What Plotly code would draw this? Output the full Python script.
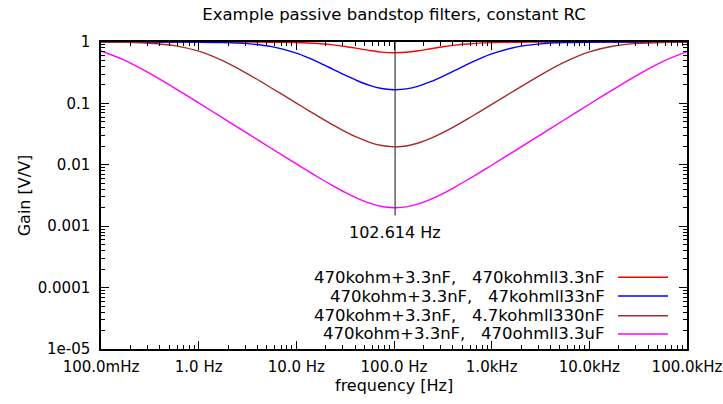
import math
import plotly.graph_objects as go

# Frequency sweep (Hz) and gain (V/V) of each bandstop network
freq_hz = [0.1, 0.1778, 0.3162, 0.5623, 1.0, 1.778, 3.162, 5.623, 10.0,
           13.34, 17.78, 23.71, 31.62, 42.17, 56.23, 74.99, 100.0, 102.614,
           133.4, 177.8, 237.1, 316.2, 421.7, 562.3, 749.9, 1000.0,
           1778.0, 3162.0, 5623.0, 10000.0, 17783.0, 31623.0, 56234.0, 100000.0]

gain_470k = [1.0, 1.0, 0.99998, 0.99992, 0.99976, 0.99925, 0.99764, 0.99262, 0.97747,
             0.9615, 0.93594, 0.8978, 0.8463, 0.78614, 0.72776, 0.68444, 0.66679, 0.66667,
             0.67916, 0.71854, 0.77517, 0.83597, 0.88951, 0.93009, 0.95773, 0.97517,
             0.99184, 0.99738, 0.99917, 0.99974, 0.99992, 0.99997, 0.99999, 1.0]

gain_47k = [0.99993, 0.99979, 0.99934, 0.9979, 0.99346, 0.97963, 0.9396, 0.83979, 0.6587,
            0.55155, 0.44884, 0.35951, 0.28756, 0.23373, 0.19662, 0.17469, 0.16672, 0.16667,
            0.17225, 0.19163, 0.22589, 0.27665, 0.34527, 0.43166, 0.53257, 0.63972,
            0.82677, 0.93368, 0.97749, 0.99271, 0.99768, 0.99926, 0.99977, 0.99993]

gain_4k7 = [0.9951, 0.98474, 0.954, 0.87293, 0.70934, 0.49256, 0.30348, 0.17664, 0.10105,
            0.07649, 0.05818, 0.04466, 0.03481, 0.02788, 0.02326, 0.02058, 0.019614, 0.019608,
            0.02028, 0.02265, 0.02689, 0.03338, 0.04265, 0.05544, 0.07281, 0.09612,
            0.16809, 0.28955, 0.47347, 0.69089, 0.86186, 0.94938, 0.98312, 0.99457]

gain_470 = [0.71546, 0.49905, 0.30808, 0.17917, 0.10189, 0.05751, 0.0324, 0.018262, 0.010338,
            0.0078079, 0.0059311, 0.0045494, 0.0035454, 0.0028386, 0.002368, 0.002095, 0.0019967, 0.001996,
            0.0020649, 0.0023056, 0.0027382, 0.0033995, 0.0043443, 0.0056508, 0.00743, 0.0098278,
            0.017352, 0.030773, 0.054626, 0.096806, 0.17043, 0.29399, 0.47983, 0.6972]

series_labels = ["470kohm+3.3nF,   470kohmll3.3nF",
                 "470kohm+3.3nF,   47kohmll33nF",
                 "470kohm+3.3nF,   4.7kohmll330nF",
                 "470kohm+3.3nF,   470ohmll3.3uF"]
series_colors = ["#ff0000", "#0000ff", "#a52a2a", "#ff00ff"]
series_gains = [gain_470k, gain_47k, gain_4k7, gain_470]

# Notch centre frequency and the span of its marker line
f_center = 102.614
marker_gain = [1.0, 0.0015]
label_gain = 0.0008

x_tick_vals = [0.1, 1, 10, 100, 1000, 10000, 100000]
x_tick_text = ["100.0mHz", "1.0 Hz", "10.0 Hz", "100.0 Hz", "1.0kHz", "10.0kHz", "100.0kHz"]
y_tick_vals = [1, 0.1, 0.01, 0.001, 0.0001, 0.00001]
y_tick_text = ["1", "0.1", "0.01", "0.001", "0.0001", "1e-05"]

FONT = "DejaVu Sans, Liberation Sans, Arial, sans-serif"
FS = 16
FS_BIG = 16.5
FS_TICK = 15


def keep_spaces(s):
    return s.replace(" ", "&nbsp;")


fig = go.Figure()

for name, color, gain in zip(series_labels, series_colors, series_gains):
    fig.add_trace(go.Scatter(x=freq_hz, y=gain, mode="lines", name=name,
                             line=dict(color=color, width=1.4, shape="spline", smoothing=0.8),
                             showlegend=False, hoverinfo="x+y+name"))

fig.add_trace(go.Scatter(x=[f_center, f_center], y=marker_gain, mode="lines",
                         line=dict(color="#3a3a3a", width=1.2),
                         showlegend=False, hoverinfo="skip"))

annotations = [
    dict(x=math.log10(f_center), y=math.log10(label_gain), xref="x", yref="y",
         text=f"{f_center:.3f} Hz", showarrow=False,
         font=dict(family=FONT, size=FS, color="black"), xanchor="center", yanchor="middle"),
    dict(x=0.5, y=-0.118, xref="paper", yref="paper", text="frequency [Hz]",
         showarrow=False, font=dict(family=FONT, size=FS, color="black"),
         xanchor="center", yanchor="middle"),
    dict(x=-0.13, y=0.5, xref="paper", yref="paper", text="Gain [V/V]",
         showarrow=False, textangle=-90, font=dict(family=FONT, size=FS, color="black"),
         xanchor="center", yanchor="middle"),
]

# Key entries: right-aligned text with a line sample to its right
shapes = []
key_rows = [0.2336, 0.1726, 0.1085, 0.0489]
for label, color, ky in zip(series_labels, series_colors, key_rows):
    annotations.append(dict(x=0.8635, y=ky, xref="paper", yref="paper", text=keep_spaces(label),
                            showarrow=False, xanchor="right", yanchor="middle",
                            font=dict(family=FONT, size=FS_BIG, color="black")))
    shapes.append(dict(type="line", xref="paper", yref="paper",
                       x0=0.8823, x1=0.9676, y0=ky, y1=ky,
                       line=dict(color=color, width=1.4)))

minor_x = [m * 10 ** e for e in range(-1, 5) for m in range(2, 10)]
minor_y = [m * 10 ** e for e in range(-5, 0) for m in range(2, 10)]

axis_common = dict(type="log", showgrid=False, zeroline=False, showline=True,
                   linecolor="black", linewidth=1.5, mirror="ticks",
                   ticks="inside", ticklen=8, tickwidth=1, tickcolor="black",
                   tickmode="array",
                   tickfont=dict(family=FONT, size=FS_TICK, color="black"))

fig.update_xaxes(range=[-1, 5], tickvals=x_tick_vals, ticktext=x_tick_text,
                 minor=dict(ticks="inside", ticklen=4, tickcolor="black", tickwidth=1,
                            tickmode="array", tickvals=minor_x, showgrid=False),
                 ticklabelstandoff=3, **axis_common)
fig.update_yaxes(range=[-5, 0], tickvals=y_tick_vals, ticktext=y_tick_text,
                 minor=dict(ticks="inside", ticklen=4, tickcolor="black", tickwidth=1,
                            tickmode="array", tickvals=minor_y, showgrid=False),
                 ticklabelstandoff=6, **axis_common)

fig.update_layout(
    width=723, height=404,
    margin=dict(l=101, r=36, t=42, b=55, autoexpand=False),
    paper_bgcolor="white", plot_bgcolor="white",
    title=dict(text="Example passive bandstop filters, constant RC",
               x=0.5, xref="paper", y=1 - 14 / 404, yref="container",
               xanchor="center", yanchor="middle",
               font=dict(family=FONT, size=FS_BIG, color="black")),
    annotations=annotations, shapes=shapes,
    showlegend=False,
)

fig.write_html("out.html")
